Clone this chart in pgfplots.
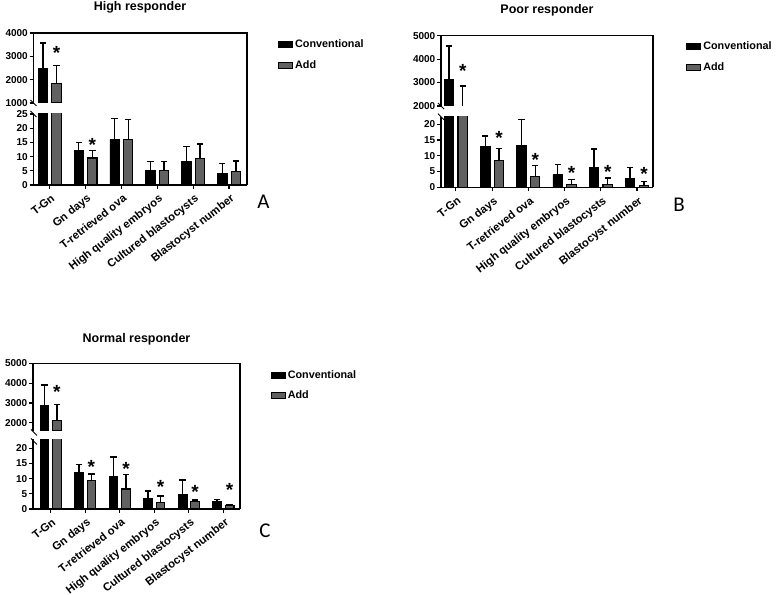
\documentclass[border=0pt]{standalone}
\usepackage{pgfplots}
\usepackage{pgfplotstable}
\pgfplotsset{compat=1.18}
\usepackage{fontspec}
\setmainfont{Liberation Sans}
\newfontfamily\letterfont{Carlito}

\pgfplotstableread{
x c ce a ae
0 2500 1070 1850 750
1 12.2 2.8 9.5 2.6
2 16.0 7.5 16.0 7.0
3 5.2 3.1 5.2 3.1
4 8.2 5.4 9.2 5.2
5 4.1 3.5 4.8 3.7
}\dataA
\pgfplotstableread{
x c ce a ae
0 3140 1420 1800 1050
1 13.1 3.2 8.4 3.9
2 13.4 8.2 3.3 3.6
3 4.0 3.2 1.0 1.4
4 6.2 6.0 1.0 2.0
5 2.9 3.3 0.5 1.3
}\dataB
\pgfplotstableread{
x c ce a ae
0 2880 1020 2130 790
1 12.0 2.75 9.3 2.3
2 10.7 6.5 6.6 4.7
3 3.5 2.5 2.0 2.3
4 4.8 4.8 2.4 0.6
5 2.4 0.8 1.3 0.2
}\dataC
% star positions (x = category + shift of the Add bar)
\pgfplotstableread{
x y
0.19 3150
}\starAu
\pgfplotstableread{
x y
1.19 14.2
}\starAl
\pgfplotstableread{
x y
0.19 3510
}\starBu
\pgfplotstableread{
x y
1.19 15.6
2.19 8.6
3.19 4.5
4.19 5.0
5.19 4.3
}\starBl
\pgfplotstableread{
x y
0.18 3530
}\starCu
\pgfplotstableread{
x y
1.18 13.9
2.18 13.3
3.18 7.4
4.18 5.5
5.18 6.2
}\starCl

\pgfplotsset{
  base/.style={scale only axis,
    axis line style={line width=1.2pt,-},
    every tick/.style={line width=1.2pt, black},
    major tick length=4pt, tick align=outside,
    y tick label style={font=\fontsize{10}{10}\selectfont\bfseries, inner sep=1.5pt},
    axis y line*=left, clip=true},
  upper/.style={base, axis x line*=top, xtick=\empty},
  lower/.style={base, axis x line*=bottom, xtick={0,...,5},
    xticklabels={T-Gn, Gn days, T-retrieved ova, High quality embryos, Cultured blastocysts, Blastocyst number},
    x tick label style={rotate=38, anchor=north east, font=\fontsize{11.3}{12}\selectfont\bfseries, inner sep=1pt, yshift=-3pt, xshift=-1pt}},
  bar/.style={ybar, bar width=#1, bar shift=0pt},
  eb/.style={error bars/.cd, y dir=plus, y explicit, error mark=none,
    error bar style={line width=1.4pt, draw=black, solid}},
  cap/.style={only marks, mark=-, mark size=3.2pt, mark options={line width=1.4pt, draw=black}},
  star/.style={draw=none, mark=none, nodes near coords={*},
    every node near coord/.style={anchor=center, inner sep=0pt, font=\fontsize{19}{19}\selectfont\bfseries}},
  leg/.style={legend style={draw=none, fill=none, inner sep=0pt, row sep=7pt,
    font=\fontsize{10.8}{12}\selectfont\bfseries, legend cell align=left,
    /tikz/every even column/.append style={column sep=7pt}},
    legend image code/.code={\draw[##1, line width=1pt] (0pt,-3pt) rectangle (14pt,3pt);}},
}
\tikzset{cfill/.style={fill=black, draw=black, line width=0.8pt},
         afill/.style={fill=black!62, draw=black, line width=1.1pt}}

\begin{document}
\begin{tikzpicture}
\path[use as bounding box] (0pt,0pt) rectangle (778pt,594pt);

% ================= Panel A =================
\begin{axis}[upper, at={(33.5pt,491pt)}, anchor=south west, width=213.5pt, height=70pt,
  xmin=-0.45, xmax=5.5, ymin=1000, ymax=4000,
  ytick={1000,2000,3000,4000}, yticklabels={1000,2000,3000,4000},
  leg, legend style={at={(1.145,0.93)}, anchor=north west}]
\addlegendimage{cfill}\addlegendentry{Conventional}
\addlegendimage{afill}\addlegendentry{Add}
\addplot[bar=0.26, cfill, restrict x to domain=-1:0.5, eb] table[x expr=\thisrow{x}-0.19, y=c, y error=ce] {\dataA};
\addplot[bar=0.26, afill, restrict x to domain=-1:0.5, eb] table[x expr=\thisrow{x}+0.19, y=a, y error=ae] {\dataA};
\addplot[cap, restrict x to domain=-1:0.5] table[x expr=\thisrow{x}-0.19, y expr=\thisrow{c}+\thisrow{ce}] {\dataA};
\addplot[cap, restrict x to domain=-1:0.5] table[x expr=\thisrow{x}+0.19, y expr=\thisrow{a}+\thisrow{ae}] {\dataA};
\addplot[star] table[x=x, y=y] {\starAu};
\end{axis}
\begin{axis}[lower, at={(33.5pt,409pt)}, anchor=south west, width=213.5pt, height=71pt,
  xmin=-0.45, xmax=5.5, ymin=0, ymax=25,
  ytick={0,5,10,15,20,25}, yticklabels={0,5,10,15,20,25}]
\addplot[bar=0.26, cfill, restrict x to domain=-1:0.5] table[x expr=\thisrow{x}-0.19, y=c] {\dataA};
\addplot[bar=0.26, afill, restrict x to domain=-1:0.5] table[x expr=\thisrow{x}+0.19, y=a] {\dataA};
\addplot[bar=0.26, cfill, restrict x to domain=0.5:6, eb] table[x expr=\thisrow{x}-0.19, y=c, y error=ce] {\dataA};
\addplot[bar=0.26, afill, restrict x to domain=0.5:6, eb] table[x expr=\thisrow{x}+0.19, y=a, y error=ae] {\dataA};
\addplot[cap, restrict x to domain=0.5:6] table[x expr=\thisrow{x}-0.19, y expr=\thisrow{c}+\thisrow{ce}] {\dataA};
\addplot[cap, restrict x to domain=0.5:6] table[x expr=\thisrow{x}+0.19, y expr=\thisrow{a}+\thisrow{ae}] {\dataA};
\addplot[star] table[x=x, y=y] {\starAl};
\end{axis}
\draw[line width=1.2pt] (247pt,409pt) -- (247pt,561.6pt);
\draw[line width=0.9pt] (30.5pt,494pt) -- (36.5pt,488pt);
\draw[line width=0.9pt] (30.5pt,483pt) -- (36.5pt,477pt);
\node[font=\fontsize{12.5}{14}\selectfont\bfseries] at (140pt,587pt) {High responder};
\node[font=\letterfont\fontsize{21}{21}\selectfont] at (263.5pt,392.5pt) {A};

% ================= Panel B =================
\begin{axis}[upper, at={(441pt,488pt)}, anchor=south west, width=212pt, height=70.3pt,
  xmin=-0.41, xmax=5.44, ymin=2000, ymax=5000,
  ytick={2000,3000,4000,5000}, yticklabels={2000,3000,4000,5000},
  leg, legend style={at={(1.156,0.94)}, anchor=north west}]
\addlegendimage{cfill}\addlegendentry{Conventional}
\addlegendimage{afill}\addlegendentry{Add}
\addplot[bar=0.26, cfill, restrict x to domain=-1:0.5, eb] table[x expr=\thisrow{x}-0.19, y=c, y error=ce] {\dataB};
% the Add mean lies below the break: only its error bar shows here
\addplot[draw=none, mark=none, restrict x to domain=-1:0.5, eb] table[x expr=\thisrow{x}+0.19, y=a, y error=ae] {\dataB};
\addplot[cap, restrict x to domain=-1:0.5] table[x expr=\thisrow{x}-0.19, y expr=\thisrow{c}+\thisrow{ce}] {\dataB};
\addplot[cap, restrict x to domain=-1:0.5] table[x expr=\thisrow{x}+0.19, y expr=\thisrow{a}+\thisrow{ae}] {\dataB};
\addplot[star] table[x=x, y=y] {\starBu};
\end{axis}
\begin{axis}[lower, at={(441pt,406.7pt)}, anchor=south west, width=212pt, height=70.6pt,
  xmin=-0.41, xmax=5.44, ymin=0, ymax=22.4,
  ytick={0,5,10,15,20}, yticklabels={0,5,10,15,20}]
\addplot[bar=0.26, cfill, restrict x to domain=-1:0.5] table[x expr=\thisrow{x}-0.19, y=c] {\dataB};
\addplot[bar=0.26, afill, restrict x to domain=-1:0.5] table[x expr=\thisrow{x}+0.19, y=a] {\dataB};
\addplot[bar=0.26, cfill, restrict x to domain=0.5:6, eb] table[x expr=\thisrow{x}-0.19, y=c, y error=ce] {\dataB};
\addplot[bar=0.26, afill, restrict x to domain=0.5:6, eb] table[x expr=\thisrow{x}+0.19, y=a, y error=ae] {\dataB};
\addplot[cap, restrict x to domain=0.5:6] table[x expr=\thisrow{x}-0.19, y expr=\thisrow{c}+\thisrow{ce}] {\dataB};
\addplot[cap, restrict x to domain=0.5:6] table[x expr=\thisrow{x}+0.19, y expr=\thisrow{a}+\thisrow{ae}] {\dataB};
\addplot[star] table[x=x, y=y] {\starBl};
\end{axis}
\draw[line width=1.2pt] (653pt,406.7pt) -- (653pt,558.9pt);
\draw[line width=0.9pt] (438pt,491pt) -- (444pt,485pt);
\draw[line width=0.9pt] (438pt,480.3pt) -- (444pt,474.3pt);
\node[font=\fontsize{12.5}{14}\selectfont\bfseries] at (547pt,583.3pt) {Poor responder};
\node[font=\letterfont\fontsize{21}{21}\selectfont] at (679pt,389pt) {B};

% ================= Panel C =================
\begin{axis}[upper, at={(33pt,163.3pt)}, anchor=south west, width=207pt, height=67.4pt,
  xmin=-0.51, xmax=5.48, ymin=1600, ymax=5000,
  ytick={2000,3000,4000,5000}, yticklabels={2000,3000,4000,5000},
  leg, legend style={at={(1.148,0.925)}, anchor=north west}]
\addlegendimage{cfill}\addlegendentry{Conventional}
\addlegendimage{afill}\addlegendentry{Add}
\addplot[bar=0.25, cfill, restrict x to domain=-1:0.5, eb] table[x expr=\thisrow{x}-0.18, y=c, y error=ce] {\dataC};
\addplot[bar=0.25, afill, restrict x to domain=-1:0.5, eb] table[x expr=\thisrow{x}+0.18, y=a, y error=ae] {\dataC};
\addplot[cap, restrict x to domain=-1:0.5] table[x expr=\thisrow{x}-0.18, y expr=\thisrow{c}+\thisrow{ce}] {\dataC};
\addplot[cap, restrict x to domain=-1:0.5] table[x expr=\thisrow{x}+0.18, y expr=\thisrow{a}+\thisrow{ae}] {\dataC};
\addplot[star] table[x=x, y=y] {\starCu};
\end{axis}
\begin{axis}[lower, at={(33pt,85pt)}, anchor=south west, width=207pt, height=69.7pt,
  xmin=-0.51, xmax=5.48, ymin=0, ymax=23,
  ytick={0,5,10,15,20}, yticklabels={0,5,10,15,20}]
\addplot[bar=0.25, cfill, restrict x to domain=-1:0.5] table[x expr=\thisrow{x}-0.18, y=c] {\dataC};
\addplot[bar=0.25, afill, restrict x to domain=-1:0.5] table[x expr=\thisrow{x}+0.18, y=a] {\dataC};
\addplot[bar=0.25, cfill, restrict x to domain=0.5:6, eb] table[x expr=\thisrow{x}-0.18, y=c, y error=ce] {\dataC};
\addplot[bar=0.25, afill, restrict x to domain=0.5:6, eb] table[x expr=\thisrow{x}+0.18, y=a, y error=ae] {\dataC};
\addplot[cap, restrict x to domain=0.5:6] table[x expr=\thisrow{x}-0.18, y expr=\thisrow{c}+\thisrow{ce}] {\dataC};
\addplot[cap, restrict x to domain=0.5:6] table[x expr=\thisrow{x}+0.18, y expr=\thisrow{a}+\thisrow{ae}] {\dataC};
\addplot[star] table[x=x, y=y] {\starCl};
\end{axis}
\draw[line width=1.2pt] (240pt,85pt) -- (240pt,231.3pt);
\draw[line width=0.9pt] (31pt,164.5pt) -- (37pt,158.5pt);
\draw[line width=0.9pt] (31pt,155.5pt) -- (37pt,149.5pt);
\node[font=\fontsize{12.5}{14}\selectfont\bfseries] at (136.5pt,254.7pt) {Normal responder};
\node[font=\letterfont\fontsize{21}{21}\selectfont] at (265pt,63pt) {C};
\end{tikzpicture}
\end{document}
